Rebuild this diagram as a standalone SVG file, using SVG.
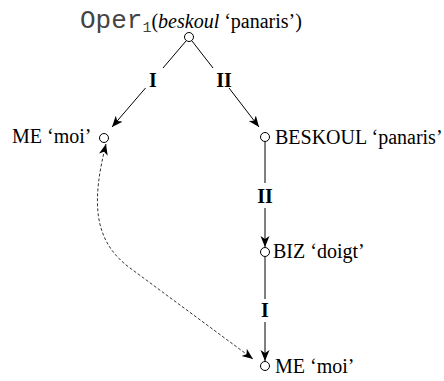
<svg xmlns="http://www.w3.org/2000/svg" width="444" height="381" viewBox="0 0 444 381">
<style>
text{font-family:"Liberation Serif","Times New Roman",serif;font-size:20px;fill:#000}
.mono{font-family:"Liberation Mono","Courier New",monospace;fill:#444}
.lbl{font-weight:bold;text-anchor:middle}
.node circle{fill:#fff;stroke:#000;stroke-width:1}
.edge{fill:none;stroke:#000;stroke-width:1}
.dash{fill:none;stroke:#000;stroke-width:0.8;stroke-dasharray:3 2}
</style>
<defs>
<marker id="ah" markerUnits="userSpaceOnUse" markerWidth="12" markerHeight="10" refX="11" refY="4.5" orient="auto-start-reverse" viewBox="0 0 12 10">
<path d="M0,0 L11,4.5 L0,9 L3,4.5 z" fill="#000"/>
</marker>
</defs>
<g id="connectors">
<line class="edge" x1="186" y1="41" x2="163" y2="68"/>
<line class="edge" x1="145.5" y1="88" x2="112" y2="127" marker-end="url(#ah)"/>
<text class="lbl" x="153" y="87">I</text>
<line class="edge" x1="192" y1="41" x2="213" y2="68"/>
<line class="edge" x1="229" y1="88" x2="259" y2="127" marker-end="url(#ah)"/>
<text class="lbl" x="224" y="87">II</text>
<line class="edge" x1="265" y1="142" x2="265" y2="183"/>
<line class="edge" x1="265" y1="208" x2="265" y2="247" marker-end="url(#ah)"/>
<text class="lbl" x="265" y="203">II</text>
<line class="edge" x1="265" y1="257" x2="265" y2="299"/>
<line class="edge" x1="265" y1="322" x2="265" y2="361" marker-end="url(#ah)"/>
<text class="lbl" x="265" y="317">I</text>
<path class="dash" d="M106,144 C92,200 92,240 130,268 L253,359" marker-start="url(#ah)" marker-end="url(#ah)"/>
</g>
<g id="n-oper" class="node">
<circle cx="189" cy="37" r="4.5"/>
<text x="80" y="28"><tspan class="mono" font-size="26">Oper</tspan><tspan class="mono" font-size="15" dy="4">1</tspan><tspan dy="-4">(</tspan><tspan font-style="italic">beskoul</tspan> ‘panaris’)</text>
</g>
<g id="n-me1" class="node">
<circle cx="104" cy="138" r="4.5"/>
<text x="12" y="143">ME ‘moi’</text>
</g>
<g id="n-beskoul" class="node">
<circle cx="265" cy="137" r="4.5"/>
<text x="275" y="144">BESKOUL ‘panaris’</text>
</g>
<g id="n-biz" class="node">
<circle cx="265" cy="252" r="4.5"/>
<text x="273" y="258">BIZ ‘doigt’</text>
</g>
<g id="n-me2" class="node">
<circle cx="265" cy="366" r="4.5"/>
<text x="275" y="373">ME ‘moi’</text>
</g>
</svg>
